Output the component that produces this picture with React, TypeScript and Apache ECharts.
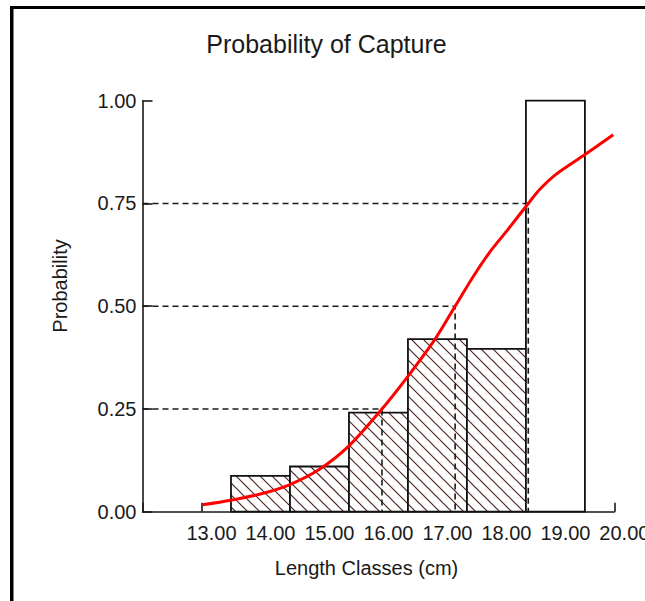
import React, { useEffect, useRef } from "react";
import * as echarts from "echarts";

// Length classes (cm) and observed proportions captured
const classes = [14, 15, 16, 17, 18, 19];
const observed = [0.087, 0.11, 0.241, 0.42, 0.396, 1.0];
const hatched = [1, 1, 1, 1, 1, 0];

// Fitted selection (probability of capture) curve
const curveX = [13.02, 13.5, 14.0, 14.5, 15.0, 15.5, 16.06, 16.46, 16.96, 17.3, 17.61, 17.9, 18.18, 18.54, 18.74, 19.02, 19.47, 19.98];
const curveP = [0.017, 0.028, 0.043, 0.066, 0.103, 0.16, 0.25, 0.322, 0.42, 0.5, 0.573, 0.634, 0.684, 0.75, 0.785, 0.822, 0.866, 0.917];

// Selection lengths L25, L50, L75
const levels = [0.25, 0.5, 0.75];
const levelLengths = [16.06, 17.3, 18.54];

const FONT = "'Liberation Sans', Arial, sans-serif";
const TXT = "#1a1a1a";

export default function App() {
  const ref = useRef<HTMLDivElement>(null);
  useEffect(() => {
    if (!ref.current) return;
    const chart = echarts.init(ref.current, undefined, { renderer: "svg" });

    const dashed = levels.map((lv, i) => ({
      type: "line",
      data: [
        [12, lv],
        [levelLengths[i], lv],
        [levelLengths[i], 0],
      ],
      symbol: "none",
      silent: true,
      z: 3,
      lineStyle: { color: "#1a1a1a", width: 1.6, type: [6, 4] },
    }));

    const option: any = {
      animation: false,
      grid: { left: 142.5, right: 30.6, top: 100.7, bottom: 89.3, containLabel: false, outerBoundsMode: "none" },
      xAxis: {
        type: "value",
        min: 12,
        max: 20,
        interval: 1,
        axisLine: { show: true, lineStyle: { color: "#1a1a1a", width: 1.6 } },
        axisTick: { show: true, inside: true, length: 9, lineStyle: { color: "#1a1a1a", width: 1.6 } },
        axisLabel: {
          formatter: (v: number) => (v === 12 ? "" : v.toFixed(2)),
          fontSize: 20,
          fontFamily: FONT,
          color: TXT,
          margin: 11,
          padding: [0, 0, 0, 20],
          hideOverlap: false,
        },
        splitLine: { show: false },
      },
      yAxis: {
        type: "value",
        min: 0,
        max: 1,
        interval: 0.25,
        axisLine: { show: true, lineStyle: { color: "#1a1a1a", width: 1.6 } },
        axisTick: { show: true, inside: true, length: 10, lineStyle: { color: "#1a1a1a", width: 1.6 } },
        axisLabel: {
          formatter: (v: number) => v.toFixed(2),
          fontSize: 20,
          fontFamily: FONT,
          color: TXT,
          margin: 6,
          padding: [0, 0, 6, 0],
        },
        splitLine: { show: false },
      },
      graphic: [
        { type: "rect", shape: { x: 10, y: 6, width: 640, height: 3 }, style: { fill: "#000" }, silent: true },
        { type: "rect", shape: { x: 10, y: 6, width: 3.5, height: 600 }, style: { fill: "#000" }, silent: true },
        {
          type: "text",
          x: 326.5,
          y: 44,
          style: { text: "Probability of Capture", fontSize: 25, fontFamily: FONT, fill: TXT, textAlign: "center", textVerticalAlign: "middle" },
        },
        {
          type: "text",
          x: 366.5,
          y: 567.5,
          style: { text: "Length Classes (cm)", fontSize: 20, fontFamily: FONT, fill: TXT, textAlign: "center", textVerticalAlign: "middle" },
        },
        {
          type: "text",
          x: 60,
          y: 286,
          rotation: Math.PI / 2,
          style: { text: "Probability", fontSize: 20, fontFamily: FONT, fill: TXT, textAlign: "center", textVerticalAlign: "middle" },
        },
      ],
      series: [
        {
          type: "custom",
          data: classes.map((c, i) => [c, observed[i], hatched[i]]),
          encode: { x: 0, y: 1 },
          z: 2,
          clip: false,
          renderItem: (_params: any, api: any) => {
            const cls = api.value(0);
            const val = api.value(1);
            const h = api.value(2);
            const p0 = api.coord([cls - 0.5, val]);
            const p1 = api.coord([cls + 0.5, 0]);
            const x0 = p0[0], y0 = p0[1], x1 = p1[0], y1 = p1[1];
            const children: any[] = [
              { type: "rect", shape: { x: x0, y: y0, width: x1 - x0, height: y1 - y0 }, style: { fill: "#fff", stroke: "none" } },
            ];
            if (h) {
              const sp = 12;
              const cMin = x0 - y1;
              const cMax = x1 - y0;
              for (let c = Math.ceil(cMin / sp) * sp; c <= cMax; c += sp) {
                const xa = Math.max(x0, y0 + c);
                const xb = Math.min(x1, y1 + c);
                if (xb > xa) {
                  children.push({
                    type: "line",
                    shape: { x1: xa, y1: xa - c, x2: xb, y2: xb - c },
                    style: { stroke: "#4a1e1e", lineWidth: 1.1 },
                  });
                }
              }
            }
            children.push({
              type: "rect",
              shape: { x: x0, y: y0, width: x1 - x0, height: y1 - y0 },
              style: { fill: "none", stroke: "#111", lineWidth: 1.8 },
            });
            return { type: "group", children };
          },
        },
        ...dashed,
        {
          type: "line",
          data: curveX.map((x, i) => [x, curveP[i]]),
          smooth: 0.3,
          symbol: "none",
          z: 5,
          lineStyle: { color: "#ff0000", width: 3 },
        },
      ],
    };
    chart.setOption(option);
    return () => chart.dispose();
  }, []);
  return <div ref={ref} style={{ position: "absolute", left: 0, top: 0, width: 645, height: 601, background: "#fff" }} />;
}
